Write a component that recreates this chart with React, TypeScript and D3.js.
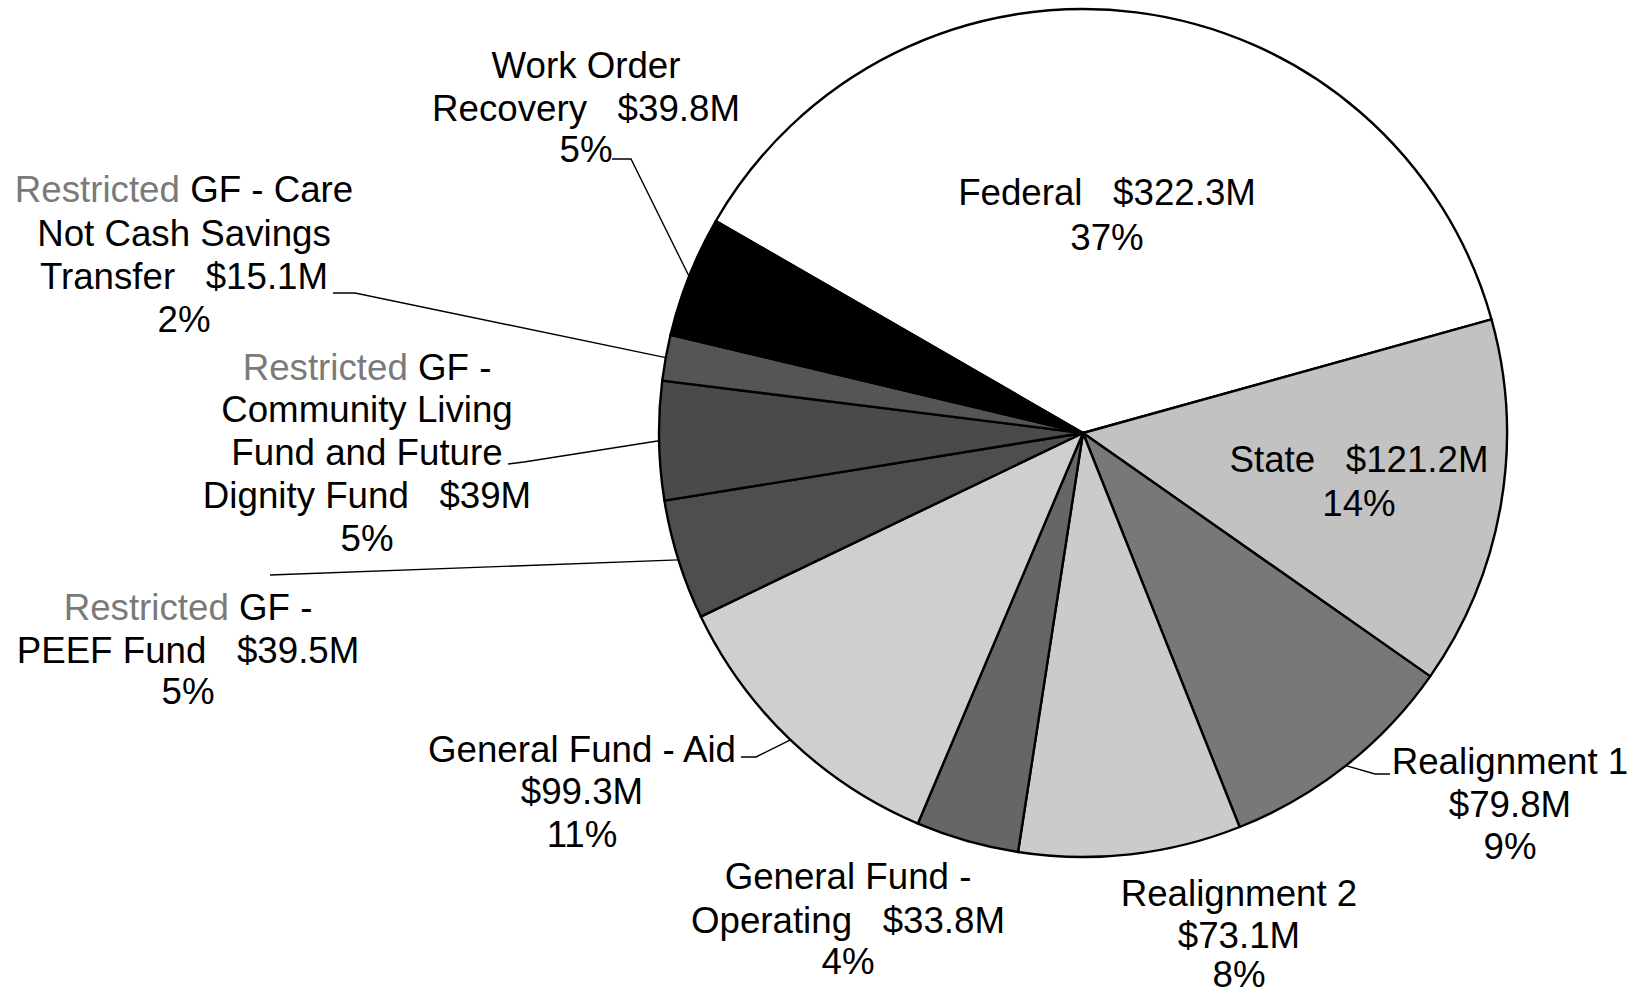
import React from "react";
import * as d3 from "d3";

const categories = [
  "Federal",
  "State",
  "Realignment 1",
  "Realignment 2",
  "General Fund - Operating",
  "General Fund - Aid",
  "Restricted GF - PEEF Fund",
  "Restricted GF - Community Living Fund and Future Dignity Fund",
  "Restricted GF - Care Not Cash Savings Transfer",
  "Work Order Recovery",
];
const values = [322.3, 121.2, 79.8, 73.1, 33.8, 99.3, 39.5, 39, 15.1, 39.8];
const amountLabels = ["$322.3M", "$121.2M", "$79.8M", "$73.1M", "$33.8M", "$99.3M", "$39.5M", "$39M", "$15.1M", "$39.8M"];
const percentLabels = ["37%", "14%", "9%", "8%", "4%", "11%", "5%", "5%", "2%", "5%"];

// label text lines: each line is list of [text, gray?]
type Seg = [string, boolean];
const labelLines: Seg[][][] = [
  [[["Federal\u00a0\u00a0\u00a0" + amountLabels[0], false]], [[percentLabels[0], false]]],
  [[["State\u00a0\u00a0\u00a0" + amountLabels[1], false]], [[percentLabels[1], false]]],
  [[["Realignment 1", false]], [[amountLabels[2], false]], [[percentLabels[2], false]]],
  [[["Realignment 2", false]], [[amountLabels[3], false]], [[percentLabels[3], false]]],
  [[["General Fund -", false]], [["Operating\u00a0\u00a0\u00a0" + amountLabels[4], false]], [[percentLabels[4], false]]],
  [[["General Fund - Aid", false]], [[amountLabels[5], false]], [[percentLabels[5], false]]],
  [[["Restricted", true], [" GF -", false]], [["PEEF Fund\u00a0\u00a0\u00a0" + amountLabels[6], false]], [[percentLabels[6], false]]],
  [
    [["Restricted", true], [" GF -", false]],
    [["Community Living", false]],
    [["Fund and Future", false]],
    [["Dignity Fund\u00a0\u00a0\u00a0" + amountLabels[7], false]],
    [[percentLabels[7], false]],
  ],
  [
    [["Restricted", true], [" GF - Care", false]],
    [["Not Cash Savings", false]],
    [["Transfer\u00a0\u00a0\u00a0" + amountLabels[8], false]],
    [[percentLabels[8], false]],
  ],
  [[["Work Order", false]], [["Recovery\u00a0\u00a0\u00a0" + amountLabels[9], false]], [[percentLabels[9], false]]],
];

const colors = ["#ffffff", "#c2c2c2", "#787878", "#cbcbcb", "#666666", "#cfcfcf", "#4e4e4e", "#4a4a4a", "#555555", "#000000"];

// layout (label anchor x, line centre y's)
const labelX = [1107, 1359, 1510, 1239, 848, 582, 188, 367, 184, 586];
const labelY: number[][] = [
  [192, 237],
  [459, 503],
  [761, 804, 846],
  [893, 935, 974],
  [876, 920, 961],
  [749, 791, 834],
  [607, 650, 691],
  [367, 409, 452, 495, 538],
  [189, 233, 276, 319],
  [65, 108, 149],
];
// leader polyline (outer points, pie edge point computed from arc)
const leaders: (number[][] | null)[] = [
  null,
  null,
  [[1390, 774], [1375, 774]],
  null,
  null,
  [[741, 757], [756, 757]],
  [[270, 575]],
  [[508, 464], [524, 462]],
  [[333, 293], [355, 293]],
  [[612, 159], [631, 159]],
];

const W = 1641;
const H = 991;
const cx = 1083;
const cy = 433;
const R = 424;

export default function App() {
  const pie = d3
    .pie<number>()
    .sort(null)
    .value((d) => d)
    .startAngle((-60 * Math.PI) / 180)
    .endAngle((300 * Math.PI) / 180);
  const arcs = pie(values);
  const arcGen = d3.arc<d3.PieArcDatum<number>>().innerRadius(0).outerRadius(R);

  return (
    <svg
      width={W}
      height={H}
      style={{ position: "fixed", left: 0, top: 0, background: "#fff" }}
      fontFamily="'Liberation Sans', Arial, sans-serif"
    >
      <rect width={W} height={H} fill="#fff" />
      <g transform={`translate(${cx},${cy})`}>
        {arcs.map((a, i) => (
          <path key={i} d={arcGen(a) || ""} fill={colors[i]} stroke="#000" strokeWidth={2.4} strokeLinejoin="round" />
        ))}
      </g>
      {leaders.map((pts, i) => {
        if (!pts) return null;
        const a = arcs[i];
        const mid = (a.startAngle + a.endAngle) / 2;
        const px = cx + R * Math.sin(mid);
        const py = cy - R * Math.cos(mid);
        const all = [...pts, [px, py]];
        const line = d3.line()(all as [number, number][]) || "";
        return <path key={i} d={line} fill="none" stroke="#000" strokeWidth={1.4} />;
      })}
      {labelLines.map((lines, i) => (
        <text key={i} fontSize={36.7} textAnchor="middle" fill="#000">
          {lines.map((segs, j) => (
            <tspan key={j} x={labelX[i]} y={labelY[i][j]} dominantBaseline="central">
              {segs.map((s, k) => (
                <tspan key={k} fill={s[1] ? "#7a7a7a" : "#000"}>
                  {s[0]}
                </tspan>
              ))}
            </tspan>
          ))}
        </text>
      ))}
    </svg>
  );
}
